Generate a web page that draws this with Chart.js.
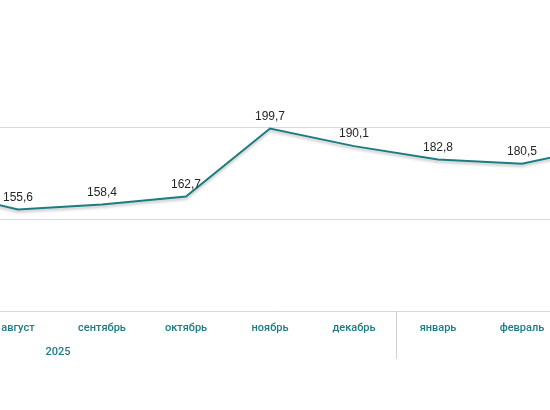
<!DOCTYPE html>
<html>
<head>
<meta charset="utf-8">
<script src="https://cdn.jsdelivr.net/npm/chart.js@4"></script>
<style>
  html, body { margin:0; padding:0; background:#fff; }
  #wrap { width:550px; height:410px; position:relative; }
</style>
</head>
<body>
<div id="wrap"><canvas id="chart" width="550" height="410"></canvas></div>
<script>
  // months, index 0 = июль (off to the left), 8 = март (off to the right)
  const months = ['июль','август','сентябрь','октябрь','ноябрь','декабрь','январь','февраль','март'];
  const values = [166.8, 155.6, 158.4, 162.7, 199.7, 190.1, 182.8, 180.5, 190.5];
  const yearLabels = ['2025'];
  const yTicks = [150, 200];

  const teal = '#1c7c84';

  // small helper plugin: shadow under the line, value labels, year row
  const extras = {
    id: 'extras',
    beforeDatasetDraw(chart){
      const c = chart.ctx; c.save();
      c.shadowColor = 'rgba(0,0,0,0.28)'; c.shadowBlur = 3; c.shadowOffsetY = 2;
    },
    afterDatasetDraw(chart){ chart.ctx.restore(); },
    afterDraw(chart){
      const c = chart.ctx, xs = chart.scales.x, area = chart.chartArea;
      const meta = chart.getDatasetMeta(0);
      c.save();
      c.font = '12px "Liberation Sans", Arial, sans-serif';
      c.fillStyle = '#262626'; c.textAlign = 'center'; c.textBaseline = 'bottom';
      meta.data.forEach((p,i)=>{ c.fillText(values[i].toFixed(1).replace('.', ','), p.x, p.y - 6); });
      // year separator between декабрь and январь
      const sx = Math.round(xs.getPixelForValue(5.5)) + 0.5;
      c.strokeStyle = '#d0d0d0'; c.lineWidth = 1;
      c.beginPath(); c.moveTo(sx, area.bottom); c.lineTo(sx, area.bottom + 47); c.stroke();
      c.font = '500 11px Roboto, sans-serif'; c.fillStyle = teal; c.textBaseline = 'middle';
      c.fillText(yearLabels[0], xs.getPixelForValue(1.476), area.bottom + 40);
      c.restore();
    }
  };

  new Chart(document.getElementById('chart'), {
    type:'line',
    data:{ datasets:[{ data: values.map((v,i)=>({x:i, y:v})), borderColor:teal, borderWidth:2,
      pointRadius:0, tension:0, fill:false }] },
    options:{
      responsive:false, animation:false,
      layout:{ padding:{ top:36, bottom:65, left:0, right:0 } },
      plugins:{ legend:{display:false}, tooltip:{enabled:false} },
      scales:{
        x:{ type:'linear', min:0.786, max:7.333,
          afterFit(s){ s.paddingLeft = 0; s.paddingRight = 0; },
          grid:{ display:false, drawTicks:false },
          border:{ display:true, color:'#d9d9d9', width:1 },
          ticks:{ stepSize:1, includeBounds:false, padding:10, color:teal, autoSkip:false, maxRotation:0,
            font:{ family:'Roboto', size:11, weight:'500' },
            callback:(v)=> months[v] || '' } },
        y:{ min:100, max:250,
          afterFit(s){ s.width = 0; },
          grid:{ drawTicks:false, color:(ctx)=> yTicks.includes(ctx.tick.value) ? '#d9d9d9' : 'transparent' },
          border:{ display:false },
          ticks:{ display:false, stepSize:50 } }
      }
    },
    plugins:[extras]
  });
</script>
</body>
</html>
